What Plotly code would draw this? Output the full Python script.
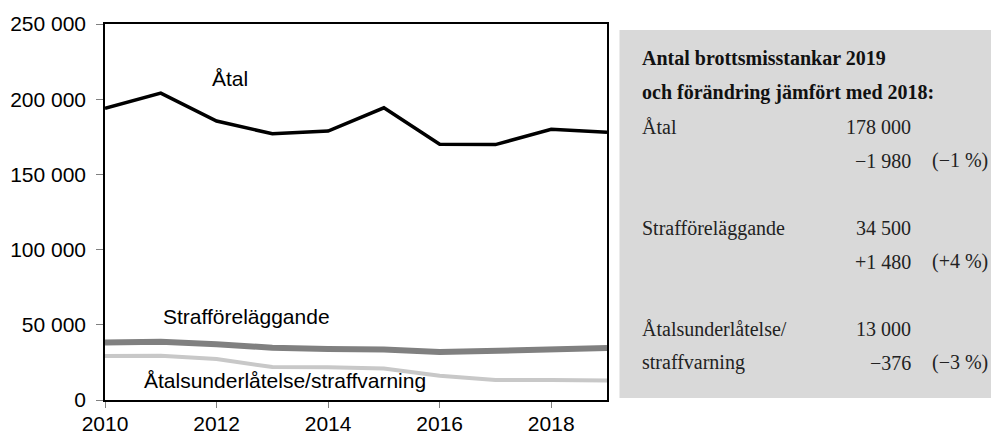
import plotly.graph_objects as go

years = list(range(2010, 2020))

# brottsmisstankar per år
atal = [194000, 204000, 185500, 177000, 178800, 194300, 170000, 169800, 179980, 178000]
strafforelaggande = [38200, 38800, 37100, 34800, 33900, 33600, 31900, 32500, 33020, 34500]
atalsunderlatelse = [29200, 29400, 27200, 21900, 21700, 21000, 16100, 13300, 13376, 13000]

y_ticks = [0, 50000, 100000, 150000, 200000, 250000]

# textrutan till höger
box_title = ["Antal brottsmisstankar 2019", "och förändring jämfört med 2018:"]
box_labels = ["Åtal", "", "", "Strafföreläggande", "", "", "Åtalsunderlåtelse/", "straffvarning"]
box_values = ["178 000", "\u22121 980", "", "34 500", "+1 480", "", "13 000", "\u2212376"]
box_pct = ["", "(\u22121 %)", "", "", "(+4 %)", "", "", "(\u22123 %)"]

# sidan har 8 px marginal i body, så figuren görs lite mindre
OFF = 8
W, H = 999 - OFF, 435 - OFF
L, R, T, B = 105 - OFF, 999 - 607.5, 24 - OFF, 35
plot_w = W - L - R
plot_h = H - T - B


def px_x(x):
    return (x - OFF - L) / plot_w


def px_y(y):
    return (H - B - (y - OFF)) / plot_h


fig = go.Figure()

fig.add_trace(go.Scatter(
    x=years, y=atalsunderlatelse, mode="lines",
    line=dict(color="#c8c8c8", width=4), hoverinfo="skip",
))
fig.add_trace(go.Scatter(
    x=years, y=strafforelaggande, mode="lines",
    line=dict(color="#808080", width=6), hoverinfo="skip",
))
fig.add_trace(go.Scatter(
    x=years, y=atal, mode="lines",
    line=dict(color="#000000", width=3.5), hoverinfo="skip",
))

sans = "Liberation Sans, Arial, sans-serif"
serif = "Liberation Serif, Times New Roman, serif"

annotations = [
    dict(x=2012.24, y=214000, text="Åtal", showarrow=False,
         font=dict(family=sans, size=21, color="black")),
    dict(x=2012.53, y=55500, text="Strafföreläggande", showarrow=False,
         font=dict(family=sans, size=21, color="black")),
    dict(x=2013.22, y=13000, text="Åtalsunderlåtelse/straffvarning", showarrow=False,
         font=dict(family=sans, size=21, color="black")),
]

# rubrik i rutan
for i, line in enumerate(box_title):
    annotations.append(dict(
        xref="paper", yref="paper", x=px_x(641), y=px_y(58 + i * 34),
        xanchor="left", yanchor="middle", showarrow=False,
        text="<b>" + line + "</b>",
        font=dict(family=serif, size=20, color="#111111"),
    ))

# rader i rutan
for i in range(len(box_labels)):
    yy = px_y(127 + i * 33.7)
    if box_labels[i]:
        annotations.append(dict(
            xref="paper", yref="paper", x=px_x(641), y=yy,
            xanchor="left", yanchor="middle", showarrow=False,
            text=box_labels[i], font=dict(family=serif, size=20, color="#222222"),
        ))
    if box_values[i]:
        annotations.append(dict(
            xref="paper", yref="paper", x=px_x(914), y=yy,
            xanchor="right", yanchor="middle", showarrow=False,
            text=box_values[i], font=dict(family=serif, size=20, color="#222222"),
        ))
    if box_pct[i]:
        annotations.append(dict(
            xref="paper", yref="paper", x=px_x(991), y=yy,
            xanchor="right", yanchor="middle", showarrow=False,
            text=box_pct[i], font=dict(family=serif, size=20, color="#222222"),
        ))

fig.update_layout(
    width=W, height=H,
    margin=dict(l=L, r=R, t=T, b=B),
    paper_bgcolor="white",
    plot_bgcolor="white",
    showlegend=False,
    separators=", ",
    font=dict(family=sans, size=21, color="black"),
    xaxis=dict(
        range=[2010, 2019], tick0=2010, dtick=2, automargin=False,
        showgrid=False, zeroline=False,
        showline=True, linecolor="black", linewidth=1.5, mirror=True,
        ticks="outside", ticklen=6, tickcolor="#808080",
        ticklabelstandoff=-2,
        tickfont=dict(family=sans, size=21, color="black"),
    ),
    yaxis=dict(
        range=[0, 250000], tickvals=y_ticks, tickformat=",d", automargin=False,
        showgrid=False, zeroline=False,
        showline=True, linecolor="black", linewidth=1.5, mirror=True,
        ticks="outside", ticklen=7, tickcolor="#808080",
        ticklabelstandoff=6,
        tickfont=dict(family=sans, size=21, color="black"),
    ),
    shapes=[dict(
        type="rect", xref="paper", yref="paper",
        x0=px_x(620), x1=px_x(999), y0=px_y(398), y1=px_y(30),
        fillcolor="#d9d9d9", line=dict(width=0), layer="below",
    )],
    annotations=annotations,
)

fig.write_html("out.html")
